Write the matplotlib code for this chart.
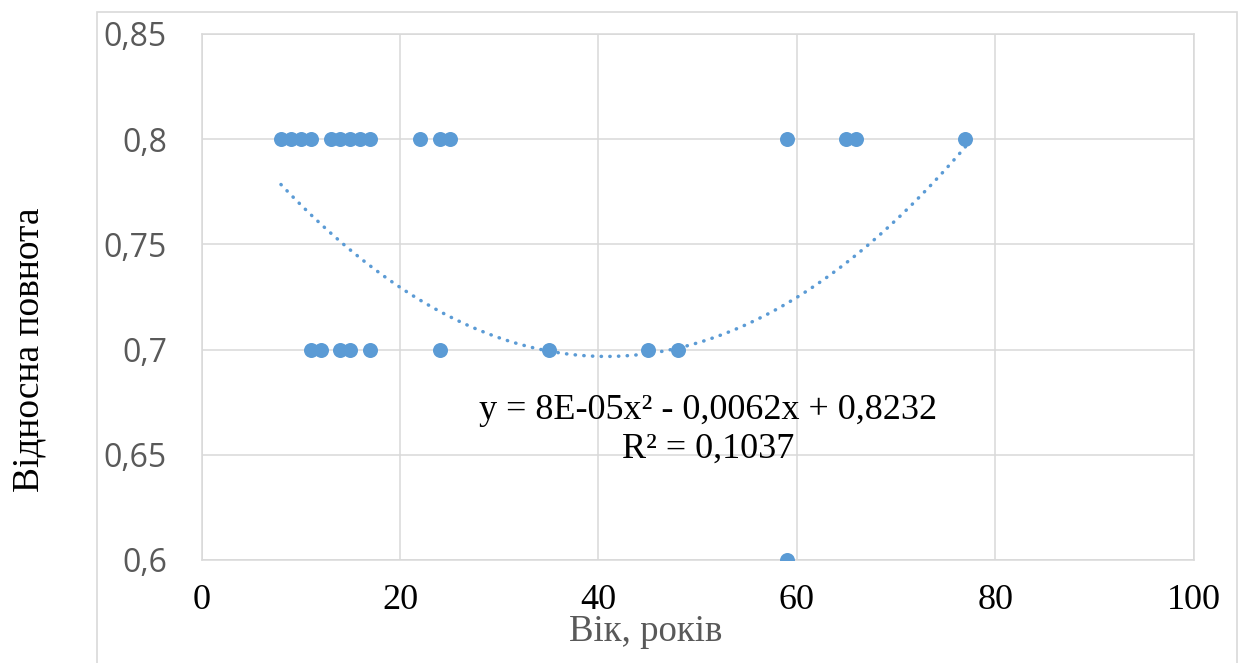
import numpy as np
import matplotlib
matplotlib.use('Agg')
import matplotlib.pyplot as plt
from matplotlib.patches import Rectangle

# age (years) and relative stocking
age = [8, 9, 10, 11, 13, 14, 15, 16, 17, 22, 24, 25, 59, 65, 66, 77,
       11, 12, 14, 15, 17, 24, 35, 45, 48,
       59]
density = [0.8] * 16 + [0.7] * 9 + [0.6]

# 2nd order trendline, coefficients
trend_coef = [7.6e-5, -0.0062, 0.8232]

x_ticks = [0, 20, 40, 60, 80, 100]
y_ticks = [0.6, 0.65, 0.7, 0.75, 0.8, 0.85]
y_tick_labels = ['0,6', '0,65', '0,7', '0,75', '0,8', '0,85']

eq_text = 'y = 8E-05x² - 0,0062x + 0,8232\nR² = 0,1037'

blue = '#5B9BD5'
grid_col = '#D9D9D9'
serif = 'Liberation Serif'

fig = plt.figure(figsize=(12.4, 6.63), dpi=100)
ax = fig.add_axes([201.6 / 1240, 1 - 560 / 663, 992 / 1240, 526 / 663])

# outer chart border (cropped at the bottom)
fig.patches.append(Rectangle((97 / 1240, -0.1), 1140 / 1240, 1.1 - 12 / 663,
                             transform=fig.transFigure, fill=False,
                             edgecolor=grid_col, linewidth=1.2, zorder=0))

xs = np.linspace(min(age), max(age), 200)
ax.plot(xs, np.polyval(trend_coef, xs), color=blue, linewidth=2.5,
        linestyle=(0, (0.1, 2.4)), dash_capstyle='round', zorder=2)

ax.plot(age, density, 'o', color=blue, markersize=10.8, markeredgewidth=0,
        zorder=3)

ax.set_xlim(0, 100)
ax.set_ylim(0.6, 0.85)
ax.set_xticks(x_ticks)
ax.set_xticklabels([str(t) for t in x_ticks], fontfamily=serif, fontsize=26,
                   color='black')
ax.set_yticks(y_ticks)
ax.set_yticklabels(y_tick_labels, fontfamily='Open Sans', fontsize=23,
                   color='#595959')
ax.tick_params(axis='both', length=0)
ax.tick_params(axis='y', pad=25)
ax.tick_params(axis='x', pad=17)

ax.grid(True, color=grid_col, linewidth=1.1)
ax.set_axisbelow(True)
for s in ax.spines.values():
    s.set_color(grid_col)
    s.set_linewidth(1.1)

fig.text(646 / 1240, 1 - 632 / 663, 'Вік, років', fontfamily=serif,
         fontsize=26.5, color='#595959', ha='center', va='center')
fig.text(29 / 1240, 1 - 350 / 663, 'Відносна повнота', fontfamily=serif,
         fontsize=27, color='black', rotation=90, ha='center', va='center')

fig.text(708 / 1240, 1 - 430 / 663, eq_text, fontfamily=serif, fontsize=26,
         color='black', ha='center', va='center', linespacing=1.25)

fig.savefig('out.png', dpi=100)
